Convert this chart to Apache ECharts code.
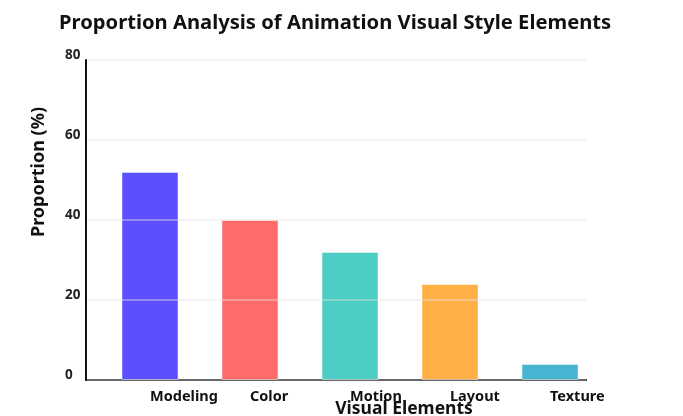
<!DOCTYPE html>
<html>
<head>
<meta charset="utf-8">
<script src="https://cdn.jsdelivr.net/npm/echarts@6/dist/echarts.min.js"></script>
<style>
  html, body { margin: 0; padding: 0; background: #ffffff; }
  #chart { width: 683px; height: 416px; }
</style>
</head>
<body>
<div id="chart"></div>
<script>
// Visual style elements and their share (%)
const categories = ['Modeling', 'Color', 'Motion', 'Layout', 'Texture'];
const proportions = [52, 40, 32, 24, 4];
const barColors = ['#5B4FFF', '#FF6B6B', '#4ECDC4', '#FFAF45', '#45B5D1'];
const yTicks = { min: 0, max: 80, interval: 20 };

const FONT = '"Noto Sans", "Open Sans", sans-serif';
const chart = echarts.init(document.getElementById('chart'), null, { renderer: 'canvas' });

chart.setOption({
  backgroundColor: '#ffffff',
  animation: false,
  title: {
    text: 'Proportion Analysis of Animation Visual Style Elements',
    left: 54,
    top: 8,
    textStyle: { fontFamily: FONT, fontWeight: 'bold', fontSize: 20.2, color: '#111111' }
  },
  grid: [
    // frame: axis lines and grid lines
    { left: 86, top: 60, width: 500, height: 320, containLabel: false, outerBoundsMode: 'none' },
    // bars and category labels
    { left: 100, top: 60, width: 500, height: 320, containLabel: false, outerBoundsMode: 'none' }
  ],
  xAxis: [
    {
      gridIndex: 0,
      type: 'category',
      data: categories,
      axisLine: { show: true, lineStyle: { color: '#111111', width: 2 } },
      axisTick: { show: false },
      axisLabel: { show: false },
      splitLine: { show: false },
      z: 1
    },
    {
      gridIndex: 1,
      type: 'category',
      data: categories,
      axisLine: { show: false },
      axisTick: { show: false },
      axisLabel: {
        align: 'left',
        margin: 9,
        fontFamily: FONT,
        fontWeight: 'bold',
        fontSize: 14.5,
        color: '#111111'
      },
      name: 'Visual Elements',
      nameLocation: 'middle',
      nameGap: 20,
      nameMoveOverlap: false,
      nameTextStyle: {
        fontFamily: FONT, fontWeight: 'bold', fontSize: 17.5, color: '#111111',
        padding: [0, 0, 0, 108]
      }
    }
  ],
  yAxis: [
    {
      gridIndex: 0,
      type: 'value',
      min: yTicks.min,
      max: yTicks.max,
      interval: yTicks.interval,
      axisLine: { show: true, lineStyle: { color: '#111111', width: 2 } },
      axisTick: { show: false },
      axisLabel: {
        align: 'left',
        margin: 21,
        fontFamily: FONT,
        fontWeight: 'bold',
        fontSize: 13.5,
        color: '#222222',
        verticalAlign: 'bottom',
        lineHeight: 10
      },
      splitLine: { show: true, lineStyle: { color: 'rgba(225,225,225,0.55)', width: 1.5 } },
      name: 'Proportion (%)',
      nameLocation: 'middle',
      nameGap: 38,
      nameRotate: 90,
      nameMoveOverlap: false,
      nameTextStyle: {
        fontFamily: FONT, fontWeight: 'bold', fontSize: 18, color: '#111111',
        padding: [0, 0, 0, 96]
      },
      z: 5
    },
    {
      gridIndex: 1,
      type: 'value',
      min: yTicks.min,
      max: yTicks.max,
      interval: yTicks.interval,
      show: false
    }
  ],
  series: [
    {
      type: 'bar',
      xAxisIndex: 1,
      yAxisIndex: 1,
      barWidth: 57,
      z: 2,
      data: proportions.map((v, i) => ({
        value: v,
        itemStyle: {
          color: barColors[i],
          borderColor: 'rgba(255,255,255,0.45)',
          borderWidth: 1
        }
      }))
    }
  ]
});
</script>
</body>
</html>
